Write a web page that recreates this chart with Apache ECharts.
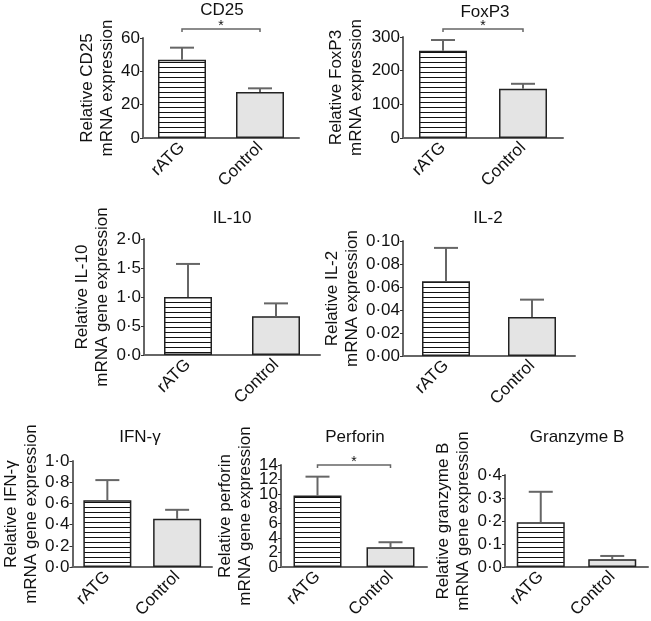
<!DOCTYPE html>
<html><head><meta charset="utf-8">
<script src="https://cdn.jsdelivr.net/npm/echarts@6/dist/echarts.min.js"></script>
<style>html,body{margin:0;padding:0;background:#fff}#c{width:651px;height:621px}</style>
</head><body><div id="c"></div>
<script>
// ---------- data ----------
const categories = ['rATG', 'Control'];
const panelTitles = ['CD25', 'FoxP3', 'IL-10', 'IL-2', 'IFN-γ', 'Perforin', 'Granzyme B'];
const yTitleLine1 = ['Relative CD25', 'Relative FoxP3', 'Relative IL-10', 'Relative IL-2', 'Relative IFN-γ', 'Relative perforin', 'Relative granzyme B'];
const yTitleLine2 = ['mRNA expression', 'mRNA expression', 'mRNA gene expression', 'mRNA expression', 'mRNA gene expression', 'mRNA gene expression', 'mRNA gene expression'];

const cd25Mean = [47, 27.6],      cd25Err = [7.2, 2.2];
const foxp3Mean = [259, 146],     foxp3Err = [32, 15];
const il10Mean = [1.0, 0.67],     il10Err = [0.57, 0.22];
const il2Mean = [0.065, 0.034],   il2Err = [0.029, 0.015];
const ifngMean = [0.63, 0.455],   ifngErr = [0.19, 0.085];
const perforinMean = [9.8, 2.7],  perforinErr = [2.6, 0.7];
const granzymeMean = [0.195, 0.034], granzymeErr = [0.132, 0.014];

const means = [cd25Mean, foxp3Mean, il10Mean, il2Mean, ifngMean, perforinMean, granzymeMean];
const errs = [cd25Err, foxp3Err, il10Err, il2Err, ifngErr, perforinErr, granzymeErr];

const yMax = [60, 300, 2, 0.1, 1, 14, 0.4];
const yStep = [20, 100, 0.5, 0.02, 0.2, 2, 0.1];
const yDecimals = [0, 0, 1, 2, 1, 0, 1];
// significance bracket level (axis units), null = none
const sigLevel = [65.4, 323.8, null, null, null, 14, null];

// ---------- layout (pixels) ----------
const layout = [
  {left: 143, top: 38,  width: 156, height: 100, gap: 23, tx: 222, ty: 2},
  {left: 403, top: 37,  width: 160, height: 101, gap: 37, tx: 485, ty: 4},
  {left: 144, top: 239, width: 176, height: 116, gap: 28, tx: 232, ty: 210},
  {left: 403, top: 241, width: 172, height: 115, gap: 34, tx: 488, ty: 210},
  {left: 67,  top: 461, width: 145, height: 107, gap: 25, tx: 140, ty: 429},
  {left: 281, top: 465, width: 146, height: 102, gap: 22, tx: 355, ty: 429},
  {left: 505, top: 475, width: 143, height: 92,  gap: 31, tx: 577, ty: 429}
];

const FONT = 'Liberation Sans, Arial, Helvetica, sans-serif';
const AXIS_COLOR = '#666';
const TEXT_COLOR = '#111';
const LABEL_FONT = 17;

// hatch pattern for rATG bars
const hatch = document.createElement('canvas');
hatch.width = 4; hatch.height = 5;
(function () {
  const g = hatch.getContext('2d');
  g.fillStyle = '#fff'; g.fillRect(0, 0, 4, 5);
  g.fillStyle = '#111'; g.fillRect(0, 2, 4, 1);
})();

const grids = [], xAxes = [], yAxes = [], extraYAxes = [], series = [], graphics = [];
const fmt = (v, i) => v.toFixed(yDecimals[i]).replace('.', '·');

layout.forEach((L, i) => {
  grids.push({left: L.left, top: L.top, width: L.width, height: L.height});
  xAxes.push({
    type: 'category', gridIndex: i, data: categories,
    axisLine: {lineStyle: {color: AXIS_COLOR, width: 2}},
    axisTick: {show: false},
    axisLabel: {rotate: 45, fontSize: LABEL_FONT, color: TEXT_COLOR, fontFamily: FONT, margin: 7, interval: 0}
  });
  yAxes.push({
    type: 'value', gridIndex: i, min: 0, max: yMax[i], interval: yStep[i],
    axisLine: {show: true, lineStyle: {color: AXIS_COLOR, width: 2}},
    axisTick: {show: true, length: 3, lineStyle: {color: '#333', width: 1}},
    splitLine: {show: false},
    axisLabel: {
      margin: 3, showMinLabel: true, showMaxLabel: true, hideOverlap: false,
      fontSize: LABEL_FONT, color: TEXT_COLOR, fontFamily: FONT,
      formatter: v => fmt(v, i)
    },
    name: yTitleLine1[i] + '\n' + yTitleLine2[i],
    nameLocation: 'middle', nameRotate: 90, nameGap: L.gap,
    nameTextStyle: {fontSize: 17, lineHeight: 20, color: TEXT_COLOR, fontFamily: FONT}
  });
  // dense axes: ECharts drops the labels next to min/max; a label-only twin axis restores them
  const nTicks = Math.round(yMax[i] / yStep[i]) + 1;
  if (L.height / (nTicks - 1) < LABEL_FONT) {
    extraYAxes.push({
      type: 'value', gridIndex: i, min: 0, max: yMax[i], interval: yStep[i], position: 'left',
      axisLine: {show: false}, splitLine: {show: false},
      axisTick: {show: true, length: 3, lineStyle: {color: '#333', width: 1}},
      axisLabel: {
        margin: 3, showMinLabel: false, showMaxLabel: false, hideOverlap: false,
        fontSize: LABEL_FONT, color: TEXT_COLOR, fontFamily: FONT,
        formatter: (v, idx) => (idx === 1 || idx === nTicks - 2) ? fmt(v, i) : ''
      }
    });
  }

  const m = means[i], e = errs[i];
  series.push({
    type: 'bar', xAxisIndex: i, yAxisIndex: i, barWidth: 48, barGap: '-100%',
    data: [m[0], '-'],
    itemStyle: {color: {image: hatch, repeat: 'repeat'}, borderColor: '#222', borderWidth: 1.5},
    silent: true, z: 2
  });
  series.push({
    type: 'bar', xAxisIndex: i, yAxisIndex: i, barWidth: 48, barGap: '-100%',
    data: ['-', m[1]],
    itemStyle: {color: '#e4e4e4', borderColor: '#222', borderWidth: 1.5},
    silent: true, z: 2
  });
  series.push({
    type: 'custom', xAxisIndex: i, yAxisIndex: i, z: 3, clip: false, silent: true,
    data: [[0, m[0], e[0]], [1, m[1], e[1]]],
    encode: {x: 0, y: 1},
    renderItem: function (params, api) {
      const x = api.value(0), v = api.value(1), err = api.value(2);
      const p0 = api.coord([x, v]), p1 = api.coord([x, v + err]);
      return {type: 'group', children: [
        {type: 'line', shape: {x1: p0[0], y1: p0[1], x2: p1[0], y2: p1[1]}, style: {stroke: AXIS_COLOR, lineWidth: 2}},
        {type: 'line', shape: {x1: p1[0] - 12, y1: p1[1], x2: p1[0] + 12, y2: p1[1]}, style: {stroke: AXIS_COLOR, lineWidth: 2}}
      ]};
    }
  });
  if (sigLevel[i] !== null) {
    series.push({
      type: 'custom', xAxisIndex: i, yAxisIndex: i, z: 3, clip: false, silent: true,
      data: [[0, 1, sigLevel[i]]],
      encode: {x: [0, 1], y: 2},
      renderItem: function (params, api) {
        const a = api.coord([api.value(0), api.value(2)]);
        const b = api.coord([api.value(1), api.value(2)]);
        return {type: 'group', children: [
          {type: 'polyline', shape: {points: [[a[0], a[1] + 3], [a[0], a[1]], [b[0], b[1]], [b[0], b[1] + 3]]},
           style: {stroke: AXIS_COLOR, lineWidth: 1.5, fill: null}},
          {type: 'text', x: (a[0] + b[0]) / 2, y: a[1] - 10,
           style: {text: '*', font: '14px ' + FONT, fill: TEXT_COLOR, textAlign: 'center', textVerticalAlign: 'top'}}
        ]};
      }
    });
  }
  graphics.push({
    type: 'text', x: L.tx, y: L.ty, silent: true,
    style: {text: panelTitles[i], font: '17px ' + FONT, fill: TEXT_COLOR, textAlign: 'center', textVerticalAlign: 'top'}
  });
});

const chart = echarts.init(document.getElementById('c'), null, {renderer: 'canvas'});
chart.setOption({
  animation: false,
  backgroundColor: '#fff',
  textStyle: {fontFamily: FONT},
  grid: grids, xAxis: xAxes, yAxis: yAxes.concat(extraYAxes), series: series,
  graphic: graphics
});
</script></body></html>
